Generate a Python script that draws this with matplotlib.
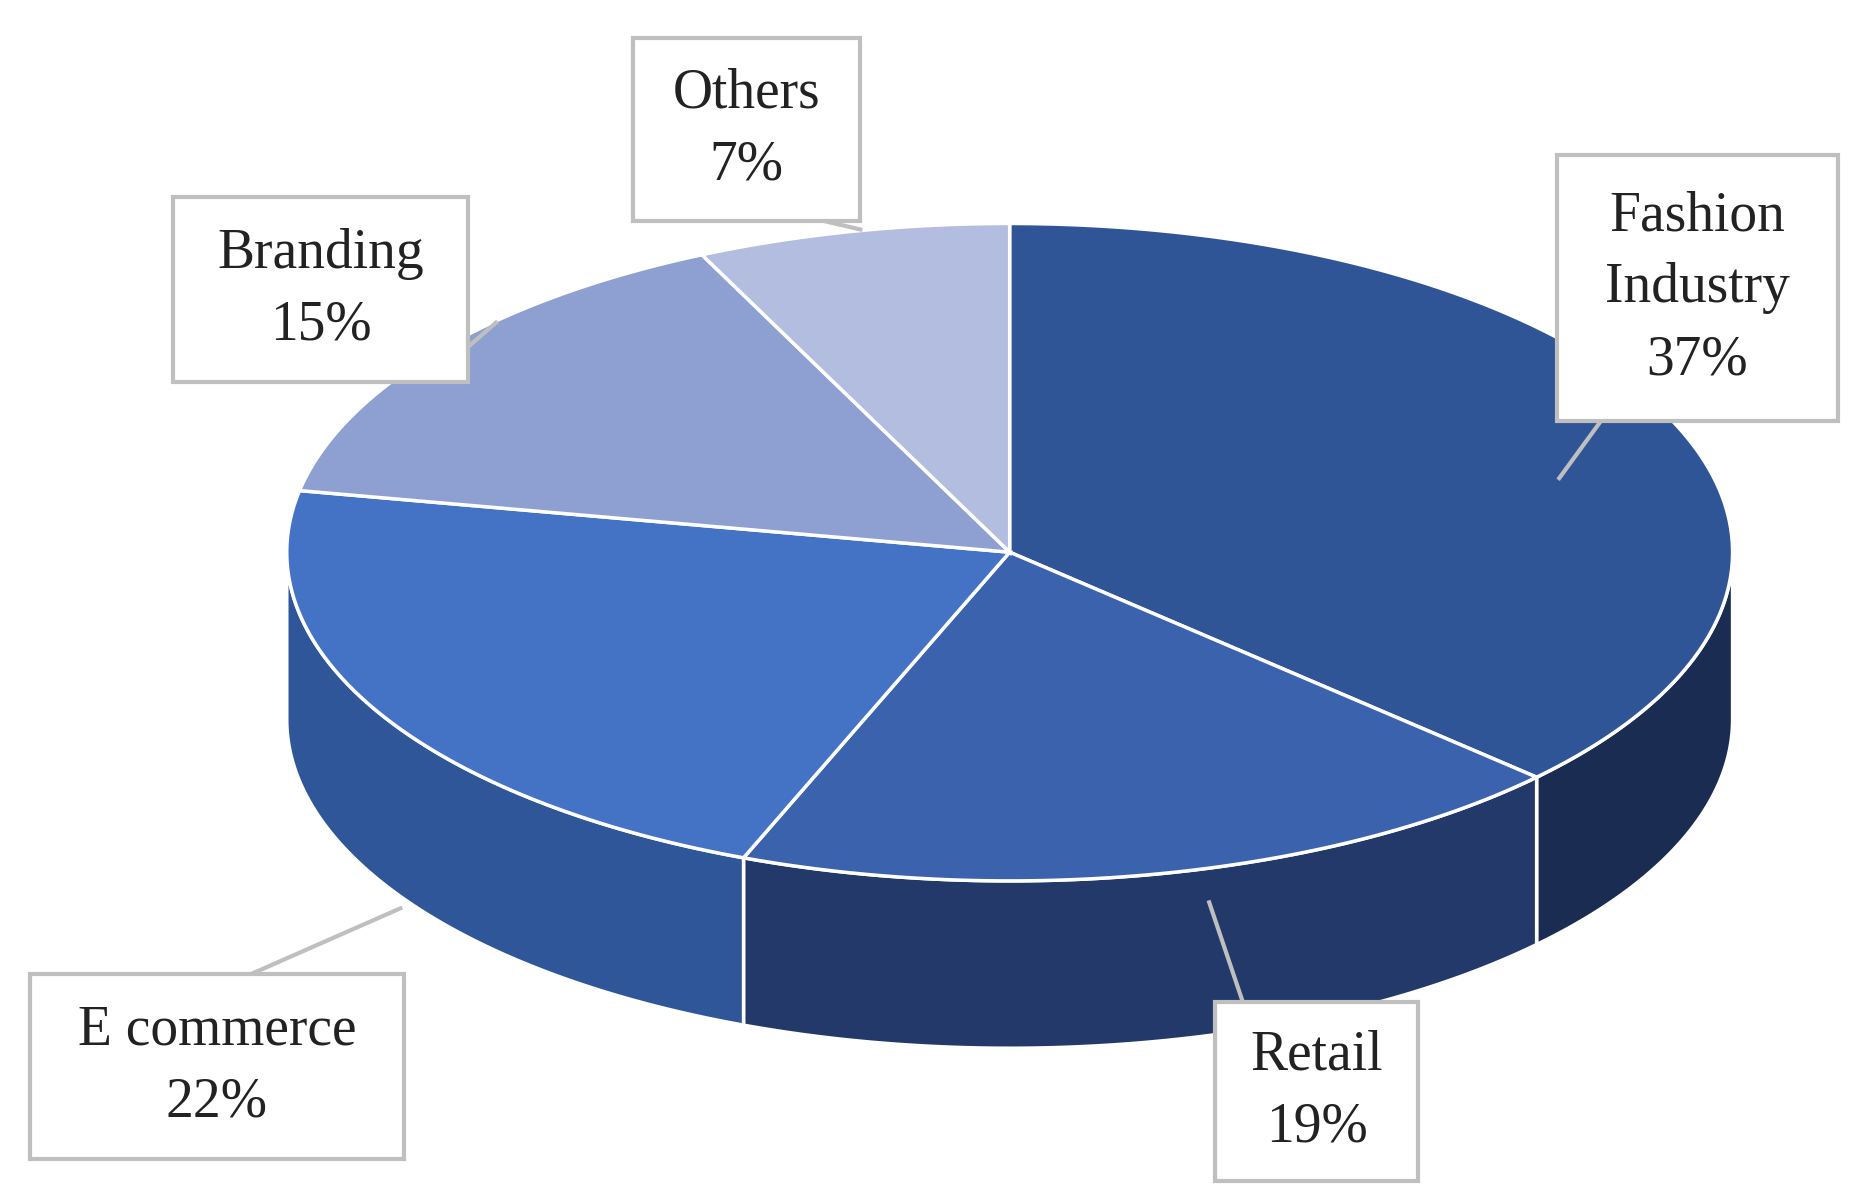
import numpy as np
import matplotlib
matplotlib.use("Agg")
import matplotlib.pyplot as plt
from matplotlib.patches import Polygon, Rectangle

categories = ["Fashion\nIndustry", "Retail", "E commerce", "Branding", "Others"]
values = [37, 19, 22, 15, 7]
labels_pct = ["37%", "19%", "22%", "15%", "7%"]
top_colors = ["#2F5597", "#3A62AD", "#4472C4", "#8EA0D2", "#B2BDE0"]
side_colors = ["#1B2C52", "#22396A", "#30569A", "#5B74B0", "#7D90C4"]

W, H = 1560, 1004
fig = plt.figure(figsize=(18.64, 12), dpi=100)
ax = fig.add_axes([0, 0, 1, 1])
ax.set_xlim(0, W); ax.set_ylim(H, 0); ax.axis("off")

cx, cy, rx, ry, depth = 845, 462, 605, 275, 140

def pt(a):
    return cx + rx*np.cos(a), cy - ry*np.sin(a)

total = sum(values)
starts = []
a = np.pi/2
for v in values:
    starts.append((a, a - 2*np.pi*v/total))
    a -= 2*np.pi*v/total

for (a0, a1), sc in zip(starts, side_colors):
    lo, hi = min(a0, a1), max(a0, a1)
    for off in (0, -2*np.pi, 2*np.pi):
        l, h = max(lo+off, -np.pi), min(hi+off, 0)
        if h > l:
            t = np.linspace(l, h, 100)
            xs, ys = pt(t)
            poly = np.vstack([np.column_stack([xs, ys]), np.column_stack([xs[::-1], ys[::-1]+depth])])
            ax.add_patch(Polygon(poly, closed=True, fc=sc, ec="white", lw=2.5, zorder=1))

for (a0, a1), tc in zip(starts, top_colors):
    t = np.linspace(a0, a1, 200)
    xs, ys = pt(t)
    poly = np.vstack([[cx, cy], np.column_stack([xs, ys])])
    ax.add_patch(Polygon(poly, closed=True, fc=tc, ec="white", lw=2.5, zorder=2))

boxes = [(1303, 130, 235, 222), (1017, 838, 170, 150), (25, 815, 313, 155),
         (145, 165, 247, 155), (530, 32, 190, 153)]
tips = [((1340, 352), (1305, 400)), ((1040, 838), (1012, 755)), ((210, 815), (335, 760)),
        ((392, 290), (415, 270)), ((690, 185), (720, 192))]
for cat, p, (x, y, w, h), (b, tp) in zip(categories, labels_pct, boxes, tips):
    ax.plot([b[0], tp[0]], [b[1], tp[1]], color="#BFBFBF", lw=3, zorder=3)
    ax.add_patch(Rectangle((x, y), w, h, fc="white", ec="#BFBFBF", lw=3, zorder=4))
    ax.text(x + w/2, y + h/2, cat + "\n" + p, ha="center", va="center",
            fontsize=40, family="Liberation Serif", color="#222222",
            linespacing=1.5, zorder=5)

fig.savefig("out.png", dpi=100, facecolor="white")
